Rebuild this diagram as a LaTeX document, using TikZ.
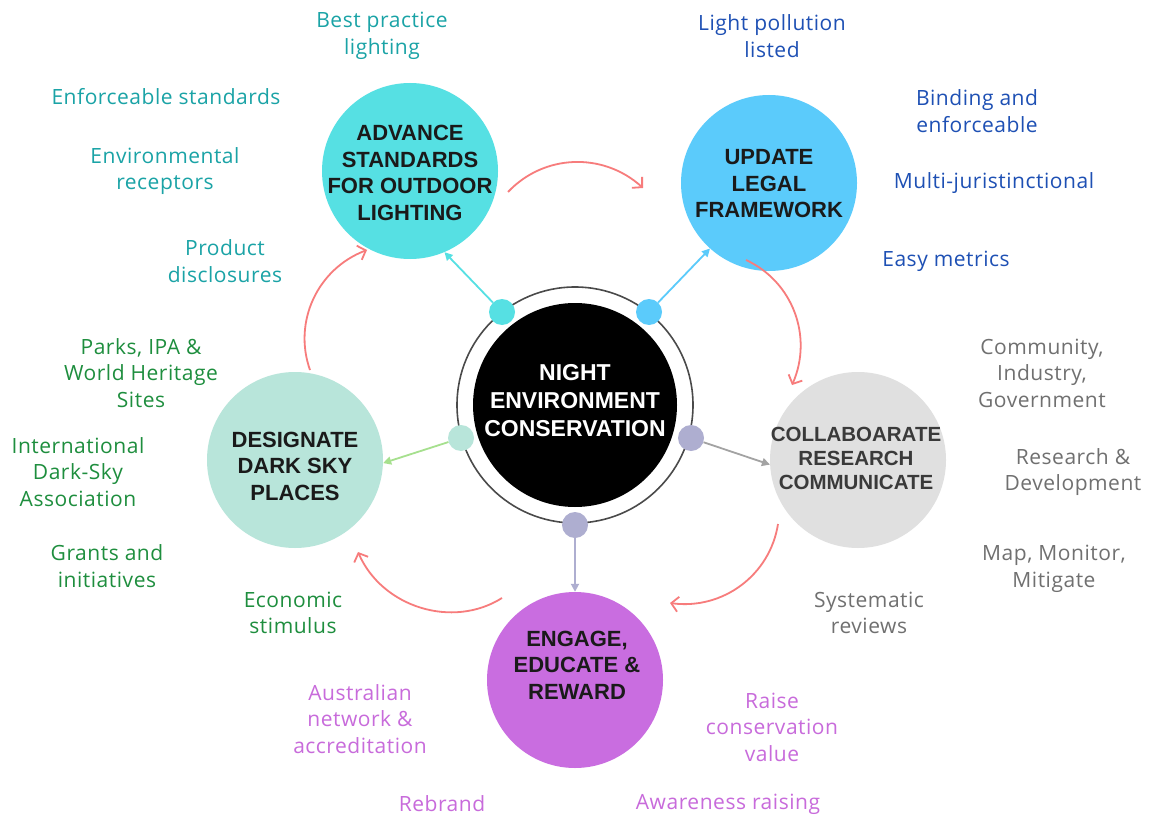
\documentclass[tikz,border=0pt]{standalone}
\usepackage{fontspec}
\setmainfont{Open Sans}[LetterSpace=2.5]
\newfontfamily\headfont{Liberation Sans}
\usetikzlibrary{arrows.meta,bending}

% fills
\definecolor{cyanfill}{HTML}{56E0E3}
\definecolor{bluefill}{HTML}{5BCBFB}
\definecolor{grayfill}{HTML}{E0E0E0}
\definecolor{purplefill}{HTML}{C96DE0}
\definecolor{mintfill}{HTML}{B8E5DA}
\definecolor{lavender}{HTML}{AEAED0}
\definecolor{ringgray}{HTML}{4A4A4A}
% connectors
\definecolor{salmon}{HTML}{F77C7C}
\definecolor{greenline}{HTML}{A6E08E}
\definecolor{grayline}{HTML}{A3A3A3}
% text
\definecolor{titleink}{HTML}{1A1A1A}
\definecolor{collabink}{HTML}{3A3A3A}
\definecolor{tealtext}{HTML}{1AA3A6}
\definecolor{bluetext}{HTML}{1E50B4}
\definecolor{graytext}{HTML}{707070}
\definecolor{purpletext}{HTML}{C86BDB}
\definecolor{greentext}{HTML}{1E8E3E}

\begin{document}
\begin{tikzpicture}[x=1pt,y=-1pt,
  hub/.style={circle,inner sep=0pt,minimum size=176pt},
  knob/.style={circle,inner sep=0pt,minimum size=26pt},
  title/.style={font=\headfont\bfseries\fontsize{22}{26.5}\selectfont,align=center,text=titleink},
  lab/.style={font=\fontsize{21}{26.5}\selectfont,align=center},
  cyclearrow/.style={salmon,line width=1.8pt,-{Straight Barb[length=7pt,width=15pt]}},
  spoke/.style={line width=1.8pt,-{Triangle[length=8pt,width=8pt]}}]

\fill[white] (0,0) rectangle (1150,818);
\useasboundingbox (0,0) rectangle (1150,818);

% central hub
\node[circle,fill=black,inner sep=0pt,minimum size=204pt] (core) at (575,405) {};
\node[circle,draw=ringgray,line width=1.6pt,inner sep=0pt,minimum size=236pt] (ring) at (575,405) {};
\node[font=\headfont\bfseries\fontsize{23}{28}\selectfont,align=center,text=white] (coretxt) at (575,401)
  {NIGHT\\ENVIRONMENT\\CONSERVATION};

% five themes
\node[hub,fill=cyanfill] (adv) at (410,171) {};
\node[hub,fill=bluefill] (upd) at (769,183) {};
\node[hub,fill=grayfill] (col) at (858,460) {};
\node[hub,fill=purplefill] (eng) at (575,680) {};
\node[hub,fill=mintfill] (des) at (295,460) {};

\node[title] (advtxt) at (410,173) {ADVANCE\\STANDARDS\\FOR OUTDOOR\\LIGHTING};
\node[title] (updtxt) at (769,184) {UPDATE\\LEGAL\\FRAMEWORK};
\node[title,text=collabink,font=\headfont\bfseries\fontsize{20.5}{24}\selectfont] (coltxt) at (856,458)
  {COLLABOARATE\\RESEARCH\\COMMUNICATE};
\node[title] (engtxt) at (577,665) {ENGAGE,\\EDUCATE \&\\REWARD};
\node[title] (destxt) at (295,466) {DESIGNATE\\DARK SKY\\PLACES};

% knobs on the ring
\node[knob,fill=cyanfill] (k1) at (502,312) {};
\node[knob,fill=bluefill] (k2) at (649,312) {};
\node[knob,fill=lavender] (k3) at (691,438) {};
\node[knob,fill=lavender] (k4) at (575,525) {};
\node[knob,fill=mintfill] (k5) at (461,438) {};

% spokes
\draw[spoke,cyanfill] (k1) -- (adv.-67);
\draw[spoke,bluefill] (k2) -- (upd.-132);
\draw[spoke,grayline] (k3) -- (col.-177);
\draw[spoke,lavender] (k4) -- (eng.90);
\draw[spoke,greenline] (k5) -- (des.-2);

% cycle arrows
\coordinate (a1s) at (508,192); \coordinate (a1e) at (643,188);
\coordinate (a2s) at (746,260); \coordinate (a2e) at (792,385);
\coordinate (a3s) at (778,524); \coordinate (a3e) at (670,603);
\coordinate (a4s) at (502,598); \coordinate (a4e) at (358,552);
\coordinate (a5s) at (310,370); \coordinate (a5e) at (367,250);
\draw[cyclearrow] (a1s) to[bend left=45] (a1e);
\draw[cyclearrow] (a2s) to[bend left=45] (a2e);
\draw[cyclearrow] (a3s) to[bend left=45] (a3e);
\draw[cyclearrow] (a4s) to[bend left=50] (a4e);
\draw[cyclearrow] (a5s) to[bend left=45] (a5e);

% outdoor lighting labels
\begin{scope}[every node/.style={lab,text=tealtext}]
\node (t1) at (382,36) {Best practice\\lighting};
\node (t2) at (166,97) {Enforceable standards};
\node (t3) at (165,171) {Environmental\\receptors};
\node (t4) at (225,261) {Product\\disclosures};
\end{scope}

% legal framework labels
\begin{scope}[every node/.style={lab,text=bluetext}]
\node (b1) at (772,36) {Light pollution\\listed};
\node (b2) at (977,111) {Binding and\\enforceable};
\node (b3) at (994,183) {Multi-juristinctional};
\node (b4) at (946,261) {Easy metrics};
\end{scope}

% research labels
\begin{scope}[every node/.style={lab,text=graytext}]
\node (g1) at (1042,373) {Community,\\Industry,\\Government};
\node (g2) at (1073,472) {Research \&\\Development};
\node (g3) at (1054,569) {Map, Monitor,\\Mitigate};
\node (g4) at (869,613) {Systematic\\reviews};
\end{scope}

% engagement labels
\begin{scope}[every node/.style={lab,text=purpletext}]
\node (p1) at (360,719) {Australian\\network \&\\accreditation};
\node (p2) at (772,727) {Raise\\conservation\\value};
\node (p3) at (442,804) {Rebrand};
\node (p4) at (728,804) {Awareness raising};
\end{scope}

% dark sky places labels
\begin{scope}[every node/.style={lab,text=greentext}]
\node (e1) at (141,373) {Parks, IPA \&\\World Heritage\\Sites};
\node (e2) at (78,472) {International\\Dark-Sky\\Association};
\node (e3) at (107,566) {Grants and\\initiatives};
\node (e4) at (293,613) {Economic\\stimulus};
\end{scope}
\end{tikzpicture}
\end{document}
